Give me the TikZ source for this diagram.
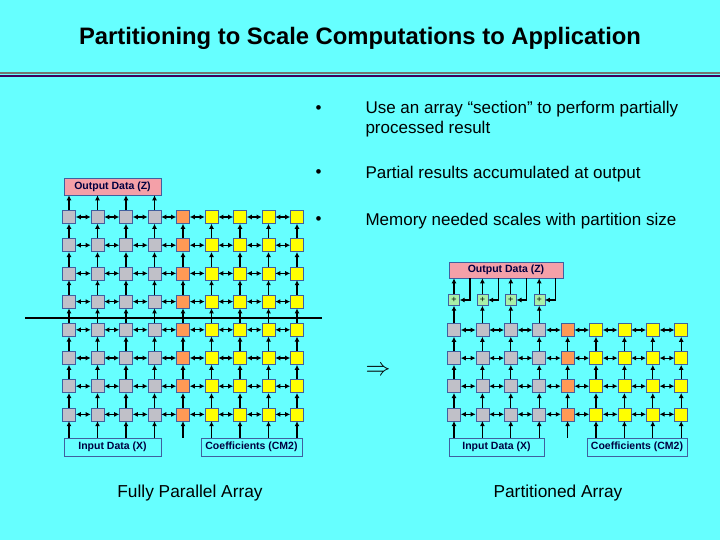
\documentclass[tikz,border=0pt]{standalone}
\usepackage{fontspec}
\setmainfont{Liberation Sans}
\usetikzlibrary{arrows.meta}
\definecolor{bg}{HTML}{66FFFF}
\definecolor{cgray}{HTML}{C0C0C8}
\definecolor{corange}{HTML}{FF9955}
\definecolor{cyell}{HTML}{FFFF00}
\definecolor{cpink}{HTML}{F4A0A8}
\definecolor{cplus}{HTML}{A8F0A8}
\definecolor{cframe}{HTML}{4060A0}
\tikzset{
 cell/.style={draw=cframe,line width=0.6pt,minimum size=13pt,inner sep=0pt},
 lbl/.style={draw=cframe,line width=0.6pt,font=\bfseries\fontsize{10.5}{12}\selectfont,inner sep=0pt,text=black!75!blue},
 ar/.style={-{Latex[length=5pt,width=5pt]},line width=1.2pt},
 dar/.style={{Latex[length=5pt,width=5pt]}-{Latex[length=5pt,width=5pt]},line width=1.2pt},
 plus/.style={draw=cframe,fill=cplus,minimum size=11pt,inner sep=0pt,font=\fontsize{9}{9}\selectfont},
 txt/.style={font=\fontsize{17}{19.5}\selectfont,anchor=west,align=left}
}
\begin{document}
\begin{tikzpicture}[x=1pt,y=-1pt]
\fill[bg] (0,0) rectangle (720,540);
\useasboundingbox (0,0) rectangle (720,540);
\node[font=\bfseries\fontsize{23.8}{26}\selectfont] (title) at (360,38) {Partitioning to Scale Computations to Application};
\fill[black!55] (0,72) rectangle (720,74.5);
\fill[blue!60!red!60!black] (0,75) rectangle (720,77);
% bullets
\node[txt] (b1a) at (312,110) {•};
\node[txt] (b1) at (362,119) {Use an array “section” to perform partially\\processed result};
\node[txt] (b2a) at (312,174) {•};
\node[txt] (b2) at (362,174) {Partial results accumulated at output};
\node[txt] (b3a) at (312,221) {•};
\node[txt] (b3) at (362,221) {Memory needed scales with partition size};
\node[font=\fontsize{28}{28}\selectfont] (impl) at (378,371) {$\Rightarrow$};
\node[font=\fontsize{17.3}{19}\selectfont] (capL) at (190,493) {Fully Parallel Array};
\node[font=\fontsize{17.3}{19}\selectfont] (capR) at (558,493) {Partitioned Array};
% left array
\node[lbl,fill=cpink,minimum width=97pt,minimum height=17pt] (Lout) at (112.5,186.5) {Output Data (Z)};
\node[lbl,fill=bg,minimum width=97pt,minimum height=18pt] (Lin) at (112.5,447) {Input Data (X)};
\node[lbl,fill=bg,minimum width=101pt,minimum height=18pt] (Lco) at (251.5,447) {Coefficients (CM2)};
\foreach \c in {1,...,9}{
 \foreach \r in {1,...,8}{
  \pgfmathsetmacro\xx{69+(\c-1)*28.5}
  \pgfmathsetmacro\yy{217+(\r-1)*28.2}
  \ifnum\c<5 \def\col{cgray}\else\ifnum\c=5 \def\col{corange}\else\def\col{cyell}\fi\fi
  \node[cell,fill=\col] (L-\c-\r) at (\xx,\yy) {};
 }}
\foreach \c in {1,...,9}{
 \draw[ar] (L-\c-8.south |- Lin.north) -- (L-\c-8.south);
 \foreach \r [evaluate=\r as \rn using int(\r+1)] in {1,...,7}{\draw[ar] (L-\c-\rn) -- (L-\c-\r);}
}
\foreach \c in {1,...,4}{\draw[ar] (L-\c-1) -- (L-\c-1 |- Lout.south);}
\foreach \r in {1,...,8}{\foreach \c [evaluate=\c as \cn using int(\c+1)] in {1,...,8}{\draw[dar] (L-\c-\r) -- (L-\cn-\r);}}
\coordinate (cutA) at (25,318); \coordinate (cutB) at (322,318);
\draw[line width=1.3pt] (cutA) -- (cutB);
% right array
\node[lbl,fill=cpink,minimum width=114pt,minimum height=16pt] (Rout) at (506,270) {Output Data (Z)};
\node[lbl,fill=bg,minimum width=95pt,minimum height=18pt] (Rin) at (496.5,447) {Input Data (X)};
\node[lbl,fill=bg,minimum width=100pt,minimum height=18pt] (Rco) at (637,447) {Coefficients (CM2)};
\foreach \c in {1,...,9}{
 \foreach \r in {1,...,4}{
  \pgfmathsetmacro\xx{454+(\c-1)*28.4}
  \pgfmathsetmacro\yy{330+(\r-1)*28.1}
  \ifnum\c<5 \def\col{cgray}\else\ifnum\c=5 \def\col{corange}\else\def\col{cyell}\fi\fi
  \node[cell,fill=\col] (R-\c-\r) at (\xx,\yy) {};
 }}
\foreach \c in {1,...,9}{
 \draw[ar] (R-\c-4.south |- Rin.north) -- (R-\c-4.south);
 \foreach \r [evaluate=\r as \rn using int(\r+1)] in {1,...,3}{\draw[ar] (R-\c-\rn) -- (R-\c-\r);}
}
\foreach \r in {1,...,4}{\foreach \c [evaluate=\c as \cn using int(\c+1)] in {1,...,8}{\draw[dar] (R-\c-\r) -- (R-\cn-\r);}}
\foreach \c in {1,...,4}{
 \pgfmathsetmacro\xx{454+(\c-1)*28.4}
 \node[plus] (P-\c) at (\xx,300) {+};
 \draw[ar] (R-\c-1) -- (P-\c);
 \draw[ar] (P-\c) -- (P-\c |- Rout.south);
 \coordinate (F-\c) at ([xshift=16pt]P-\c.north |- Rout.south);
 \draw[ar] (F-\c) |- (P-\c.east);
}
\end{tikzpicture}
\end{document}
